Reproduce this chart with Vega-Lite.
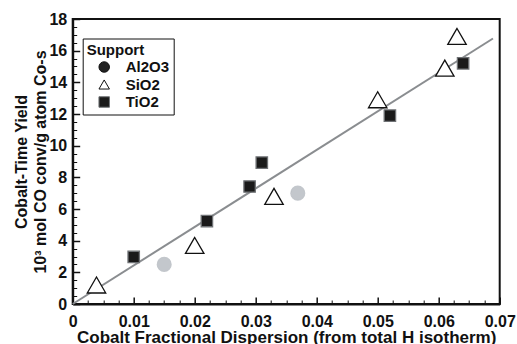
{
  "$schema": "https://vega.github.io/schema/vega-lite/v6.json",
  "width": 427,
  "height": 285,
  "autosize": {"type": "none"},
  "padding": {"left": 72.7, "top": 19, "right": 17.3, "bottom": 40},
  "background": "white",
  "config": {
    "font": "Liberation Sans",
    "view": {"stroke": "#111", "strokeWidth": 2},
    "axis": {"grid": false, "domainColor": "#111", "domainWidth": 2, "tickColor": "#111", "labelFont": "Liberation Sans", "labelFontWeight": "bold", "labelFontSize": 16, "labelColor": "#111", "titleFont": "Liberation Sans", "titleFontWeight": "bold", "titleFontSize": 16, "titleColor": "#111"}
  },
  "datasets": {
    "pts": [
      {"d": 0.0039, "y": 1.2, "Support": "SiO2"},
      {"d": 0.020, "y": 3.7, "Support": "SiO2"},
      {"d": 0.033, "y": 6.8, "Support": "SiO2"},
      {"d": 0.050, "y": 12.9, "Support": "SiO2"},
      {"d": 0.061, "y": 14.9, "Support": "SiO2"},
      {"d": 0.063, "y": 16.9, "Support": "SiO2"},
      {"d": 0.010, "y": 2.97, "Support": "TiO2"},
      {"d": 0.022, "y": 5.24, "Support": "TiO2"},
      {"d": 0.029, "y": 7.42, "Support": "TiO2"},
      {"d": 0.031, "y": 8.93, "Support": "TiO2"},
      {"d": 0.052, "y": 11.9, "Support": "TiO2"},
      {"d": 0.064, "y": 15.2, "Support": "TiO2"},
      {"d": 0.015, "y": 2.5, "Support": "Al2O3"},
      {"d": 0.0369, "y": 7.0, "Support": "Al2O3"}
    ],
    "fit": [
      {"d": 0, "y": 0},
      {"d": 0.0689, "y": 16.77}
    ]
  },
  "layer": [
    {
      "data": {"name": "fit"},
      "mark": {"type": "line", "color": "#8a8d90", "strokeWidth": 2},
      "encoding": {
        "x": {"field": "d", "type": "quantitative", "scale": {"domain": [0, 0.07], "nice": false},
          "axis": {"orient": "bottom", "values": [0, 0.01, 0.02, 0.03, 0.04, 0.05, 0.06, 0.07], "format": "~g", "tickSize": -7, "tickWidth": 1.5, "labelPadding": 16, "labelFlush": false, "labelOverlap": false, "title": "Cobalt Fractional Dispersion (from total H isotherm)", "titleFontSize": 17, "titlePadding": 0}},
        "y": {"field": "y", "type": "quantitative", "scale": {"domain": [0, 18], "nice": false},
          "axis": {"orient": "left", "values": [0, 2, 4, 6, 8, 10, 12, 14, 16, 18], "tickSize": -7, "tickWidth": 1.5, "labelPadding": 13, "labelOverlap": false, "title": ["Cobalt-Time Yield", "10³ mol CO conv/g atom Co-s"], "titlePadding": 0, "titleLineHeight": 19}}
      }
    },
    {
      "data": {"name": "fit"},
      "mark": {"type": "point", "opacity": 0},
      "encoding": {
        "x": {"field": "d", "type": "quantitative",
          "axis": {"orient": "bottom", "values": [0.0025, 0.005, 0.0075, 0.0125, 0.015, 0.0175, 0.0225, 0.025, 0.0275, 0.0325, 0.035, 0.0375, 0.0425, 0.045, 0.0475, 0.0525, 0.055, 0.0575, 0.0625, 0.065, 0.0675], "tickSize": -4, "tickWidth": 1, "labels": false, "domain": false, "title": null}},
        "y": {"field": "y", "type": "quantitative",
          "axis": {"orient": "left", "values": [0.5, 1, 1.5, 2.5, 3, 3.5, 4.5, 5, 5.5, 6.5, 7, 7.5, 8.5, 9, 9.5, 10.5, 11, 11.5, 12.5, 13, 13.5, 14.5, 15, 15.5, 16.5, 17, 17.5], "tickSize": -4, "tickWidth": 1, "labels": false, "domain": false, "title": null}}
      }
    },
    {
      "data": {"name": "pts"},
      "mark": {"type": "point", "filled": true, "strokeWidth": 1.3, "opacity": 1},
      "encoding": {
        "x": {"field": "d", "type": "quantitative", "axis": null},
        "y": {"field": "y", "type": "quantitative", "axis": null},
        "shape": {"field": "Support", "type": "nominal",
          "scale": {"domain": ["Al2O3", "SiO2", "TiO2"], "range": ["circle", "triangle-up", "square"]},
          "legend": {"orient": "none", "legendX": 10, "legendY": 19.5, "title": "Support", "titleFontSize": 15, "titleFontWeight": "bold", "titleColor": "#111", "titlePadding": 2, "labelFontSize": 15, "labelFontWeight": "bold", "labelColor": "#111", "strokeColor": "#111", "fillColor": "white", "padding": 4, "symbolSize": 110, "symbolStrokeWidth": 1, "rowPadding": 1.5, "symbolOffset": 10, "labelOffset": 14}},
        "fill": {"field": "Support", "type": "nominal",
          "scale": {"domain": ["Al2O3", "SiO2", "TiO2"], "range": ["#222222", "#ffffff", "#1a1a1a"]},
          "legend": {"orient": "none", "legendX": 10, "legendY": 19.5, "title": "Support"}},
        "stroke": {"field": "Support", "type": "nominal",
          "scale": {"domain": ["Al2O3", "SiO2", "TiO2"], "range": ["#111111", "#111111", "#6f7275"]},
          "legend": {"orient": "none", "legendX": 10, "legendY": 19.5, "title": "Support"}},
        "size": {"condition": [{"test": "datum.Support === 'SiO2'", "value": 340}, {"test": "datum.Support === 'TiO2'", "value": 130}], "value": 140}
      }
    },
    {
      "data": {"name": "pts"},
      "transform": [{"filter": "datum.Support === 'Al2O3'"}],
      "mark": {"type": "circle", "fill": "#c3c7cc", "stroke": "#c3c7cc", "strokeWidth": 1.3, "size": 190, "opacity": 1},
      "encoding": {
        "x": {"field": "d", "type": "quantitative", "axis": null},
        "y": {"field": "y", "type": "quantitative", "axis": null}
      }
    }
  ],
  "resolve": {"axis": {"x": "independent", "y": "independent"}}
}
